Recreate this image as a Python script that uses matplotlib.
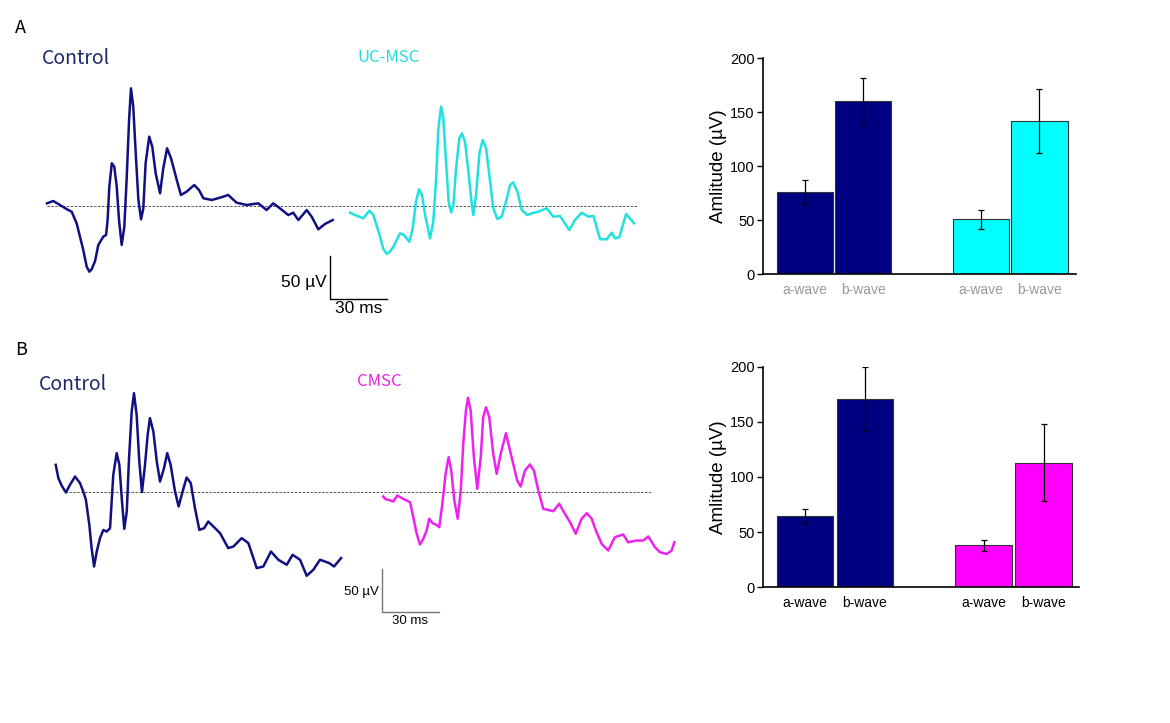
import numpy as np
import matplotlib.pyplot as plt

W, H = 1170, 723
PX_MS = 1.9    # pixels per ms in the trace panels
PX_UV = 0.86   # pixels per microvolt

NAVY = "#000080"
CYAN = "#00FFFF"
MAGENTA = "#FF00FF"

# --- ERG traces, (ms, uV) ---
ctrl_a_t = [0, 3.3, 6.8, 11.2, 13, 15.6, 19.1, 20.9, 22.3, 23.5, 25.3, 27, 29.6, 31.1, 31.9,
            32.8, 34.1, 35.4, 36.7, 37.9, 39.3, 40.7, 41.9, 43.2, 44.2, 45.4, 46.7, 48.1, 49.5,
            50.7, 51.9, 53.8, 55.4, 57.2, 59.5, 61.2, 63.2, 65.3, 68.3, 70.5, 73.5, 77.5, 80,
            82.3, 86.7, 91.1, 95.4, 99.8, 105.1, 111.2, 115.6, 119.1, 122.6, 127, 129.6, 132.3,
            136.7, 139.3, 142.8, 146.3, 150.4]
ctrl_a_v = [3.1, 5.8, 1.2, -4.7, -6.6, -20.1, -51.2, -70.6, -76.4, -73.6, -64, -45.3, -35.7,
            -33.7, -16.3, 22.5, 49.7, 45.7, 22.5, -16.3, -45.3, -24.1, 30.2, 100, 136.8, 115.5,
            61.3, 7, -15.5, -2.7, 49.7, 80.6, 69, 38, 14.8, 43.8, 67.1, 55.4, 30.2, 12.8, 16.7,
            24.4, 18.6, 9, 7, 9.7, 12.8, 3.8, 1.2, 3.1, -4.7, 3.1, -2.7, -10.5, -7.8, -16.3,
            -4.7, -12.4, -27.1, -20.9, -16.3]

ucmsc_t = [0, 2.6, 7, 10.2, 12.3, 15.8, 17.5, 19.3, 21, 22.8, 26.3, 28.4, 31.2, 33, 34.7, 36.3,
           37.9, 39.5, 42.1, 43.8, 45.3, 46.5, 47.9, 49.1, 50.5, 51.9, 53.2, 54.4, 55.8, 57.5,
           58.9, 60.5, 62.3, 64.1, 64.9, 66.3, 68.1, 69.8, 71.6, 73.3, 75.4, 77.5, 79.8, 82.1,
           84.2, 85.9, 88.1, 90.4, 93.3, 95.6, 99.1, 103.5, 107, 110.5, 115.4, 118.4, 121.9,
           125.4, 128.1, 131.6, 135.1, 137.7, 139.5, 141.7, 145.3, 149.5]
ucmsc_v = [-7.8, -10.5, -14.3, -5.5, -10.5, -35.7, -50, -55.8, -53, -47.3, -31.8, -33.7, -41.5,
           -25.9, 5, 19.4, 12.8, -10.5, -37.6, -18.3, 32.2, 90.3, 115.5, 102, 51.5, 5, -7.3, 1.2,
           43.8, 78.7, 84.5, 74.8, 39.9, 1.2, -10.5, 12.8, 61.3, 76.7, 67.1, 36, -2.7, -15.1,
           -12.4, 5, 24.4, 27.5, 16.4, -4.7, -10.5, -8.5, -6.6, -2.7, -12.4, -11.6, -27.9,
           -16.3, -7.8, -12.4, -11.6, -38.7, -38.7, -31, -37.6, -36.4, -9.3, -20.1]

ctrl_b_t = [0, 1.4, 3.2, 5.4, 7.2, 10.2, 12.8, 14.5, 15.9, 17.7, 18.9, 20.2, 21.6, 23.3, 25.1,
            26.8, 28.6, 30.3, 32.1, 33.5, 34.9, 36.1, 37.4, 38.6, 40, 41.2, 42.6, 44, 45.4, 47,
            48.4, 49.6, 51.4, 53.2, 54.9, 57, 58.7, 60.5, 62.8, 64.7, 66.8, 68.9, 71.1, 73.3,
            75.6, 78.1, 80.3, 86.5, 90.8, 93.5, 97.9, 101.4, 105.8, 109.3, 113.3, 117.2, 121.6,
            124.7, 128.6, 132.1, 135.6, 139.1, 141.7, 144, 146.5, 150.2]
ctrl_b_v = [31, 15.6, 6.6, -1.2, 6.6, 17.4, 9.7, 0, -9.7, -38.8, -65.9, -87.2, -69.8, -54.3,
            -44.7, -46.6, -42.7, 19.4, 44.6, 31, -11.7, -43.4, -23.3, 38.8, 93, 114.3, 89.1,
            34.9, -0.7, 31, 65.9, 85.3, 69.8, 34.9, 11.6, 27.1, 44.6, 31, 0, -17.4, 0, 16.3,
            9.7, -19.4, -44.6, -42.7, -34.9, -48.4, -65.8, -64, -54.2, -60, -89.1, -87.2,
            -69.8, -79.4, -85.2, -73.6, -79.4, -98, -91, -79.4, -81.4, -83.3, -87.2, -77.4]

cmsc_t = [0, 0.9, 5.3, 7.4, 10.5, 14.1, 15.8, 17.6, 19.3, 21.1, 22.8, 24.2, 26, 27.7, 29.5,
          31.1, 32.8, 34.4, 35.8, 37.4, 39.2, 40.8, 42.1, 43.5, 44.6, 46, 47.7, 49.5, 51.3,
          52.6, 54.1, 55.8, 57.9, 59.7, 61.8, 64.6, 66.7, 68.4, 70.5, 72.3, 74.6, 77.2, 79.3,
          81.6, 84.2, 89.5, 92.6, 95.6, 98.3, 101.3, 104.4, 107.1, 109.7, 111.9, 114.9, 118.4,
          121.9, 126.3, 128.9, 133.4, 136.8, 139.5, 143, 145.6, 149.2, 151.8, 153.2]
cmsc_v = [-5.8, -8.5, -11.6, -4.7, -8.5, -12.4, -29.8, -49.2, -61.6, -55, -45.3, -31.7, -36.9,
          -38.4, -41.5, -14.3, 20.5, 39.9, 24.4, -10.5, -31.7, 1.2, 55.4, 94.2, 109, 94.2, 39.9,
          3.1, 39.9, 86.4, 98, 86.4, 43.8, 20.5, 43.8, 67.8, 47.7, 32.2, 12.8, 5.8, 24.4, 31.4,
          24.4, 1.2, -20.1, -22.9, -14.3, -25.9, -35.7, -49.2, -31.7, -25.2, -31.7, -45.3,
          -60.8, -68.6, -53.1, -50, -59, -57, -57, -52.3, -64.8, -70.6, -72.7, -68.6, -59]

# --- bar charts: amplitude (uV), mean and error ---
wave_labels = ["a-wave", "b-wave", "a-wave", "b-wave"]
amp_a = [76, 160, 51, 142]
err_a = [11, 21.5, 8.6, 29.3]
amp_b = [65, 171, 38, 113]
err_b = [6.3, 29, 4.7, 35]


def px_axes(fig, x0, y0, x1, y1):
    return fig.add_axes([x0 / W, 1 - y1 / H, (x1 - x0) / W, (y1 - y0) / H])


def trace_panel(fig, box, origin, traces, dash_span, scalebar, sb_color, sb_fs, sb_text_off):
    x0, y0, x1, y1 = box
    ox, oy = origin
    ax = px_axes(fig, x0, y0, x1, y1)
    ax.set_xlim((x0 - ox) / PX_MS, (x1 - ox) / PX_MS)
    ax.set_ylim((oy - y1) / PX_UV, (oy - y0) / PX_UV)
    ax.axis("off")
    ax.plot(dash_span, [0, 0], color="#555555", lw=0.7, ls=(0, (2.5, 1.5)))
    for t, v, off, c in traces:
        ax.plot(np.array(t) + off, v, color=c, lw=1.8, solid_joinstyle="round")
    sx, sy = scalebar
    ax.plot([sx, sx, sx + 30], [sy + 50, sy, sy], color=sb_color, lw=1.0)
    dx, dy = sb_text_off
    ax.text(sx - 1.5, sy + dy, "50 \u00b5V", ha="right", va="center", fontsize=sb_fs,
            family="Liberation Sans")
    ax.text(sx + 15, sy - dx, "30 ms", ha="center", va="top", fontsize=sb_fs,
            family="Liberation Sans")
    return ax


def bar_panel(fig, box, pos, xlim, amps, errs, colors, lab_color, width):
    ax = px_axes(fig, *box)
    ax.bar(pos, amps, width=width, color=colors, edgecolor="#333333", linewidth=0.8,
           yerr=errs, error_kw=dict(ecolor="black", elinewidth=0.9, capsize=2, capthick=0.9))
    ax.set_xlim(*xlim)
    ax.set_ylim(0, 200)
    ax.set_yticks([0, 50, 100, 150, 200])
    ax.set_xticks(pos)
    ax.set_xticklabels(wave_labels, color=lab_color, fontsize=10, family="Liberation Sans")
    ax.tick_params(axis="x", length=0, pad=6)
    ax.tick_params(axis="y", length=4, width=1, labelsize=10.5, pad=2)
    for lab in ax.get_yticklabels():
        lab.set_family("Liberation Sans")
    for s in ("top", "right"):
        ax.spines[s].set_visible(False)
    for s in ("left", "bottom"):
        ax.spines[s].set_linewidth(1.2)
    ax.set_ylabel("Amlitude (\u00b5V)", fontsize=13.5, family="Liberation Sans", labelpad=2)
    return ax


fig = plt.figure(figsize=(W / 100, H / 100), dpi=100)

# row A traces
trace_panel(fig, (0, 40, 700, 330), (47, 206),
            [(ctrl_a_t, ctrl_a_v, 0, "#101080"), (ucmsc_t, ucmsc_v, 159.5, "#22E0E0")],
            [0, 310.5], (148.9, -108.1), "black", 12.5, (2, 19))
# row B traces
trace_panel(fig, (0, 360, 700, 650), (55.7, 491.5),
            [(ctrl_b_t, ctrl_b_v, 0, "#101080"), (cmsc_t, cmsc_v, 172.4, "#EE22EE")],
            [5, 314], (171.7, -140.1), "#777777", 9.5, (3, 23))

# bar charts
bar_panel(fig, (763, 58.3, 1076, 274.3), [0, 1, 3.03, 4.03], (-0.72, 4.66),
          amp_a, err_a, [NAVY, NAVY, CYAN, CYAN], "#999999", 0.97)
bar_panel(fig, (763, 366.7, 1079, 587.3), [0, 1, 2.98, 3.98], (-0.7, 4.57),
          amp_b, err_b, [NAVY, NAVY, MAGENTA, MAGENTA], "black", 0.94)

# panel letters and group names
lab_font = ["Noto Sans CJK KR", "DejaVu Sans"]
fig.text(15 / W, 1 - 28 / H, "A", fontsize=13, family=lab_font, va="center")
fig.text(15 / W, 1 - 350 / H, "B", fontsize=13, family=lab_font, va="center")
fig.text(42 / W, 1 - 59 / H, "Control", fontsize=14, color="#1A2A6C", family=lab_font, va="center")
fig.text(357 / W, 1 - 57 / H, "UC-MSC", fontsize=12, color="#22DDDD", family=lab_font, va="center")
fig.text(39 / W, 1 - 384 / H, "Control", fontsize=14, color="#1A2A6C", family=lab_font, va="center")
fig.text(357 / W, 1 - 381 / H, "CMSC", fontsize=12, color="#EE22EE", family=lab_font, va="center")

fig.savefig("out.png", dpi=100)
